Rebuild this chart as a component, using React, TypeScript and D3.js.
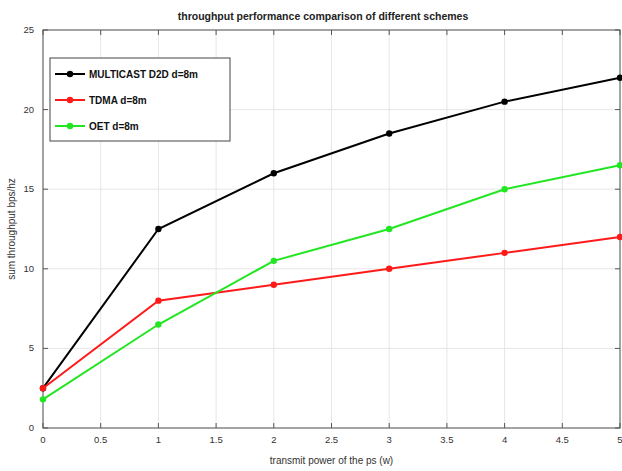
import React from 'react';
import * as d3 from 'd3';

// data
const powers = [0, 1, 2, 3, 4, 5];
const multicast = [2.5, 12.5, 16, 18.5, 20.5, 22];
const tdma = [2.5, 8, 9, 10, 11, 12];
const oet = [1.8, 6.5, 10.5, 12.5, 15, 16.5];

const seriesNames = ['MULTICAST D2D d=8m', 'TDMA d=8m', 'OET d=8m'];
const seriesColors = ['#000000', '#ff1a1a', '#22e622'];
const xTicks = [0, 0.5, 1, 1.5, 2, 2.5, 3, 3.5, 4, 4.5, 5];
const yTicks = [0, 5, 10, 15, 20, 25];

const W = 622;
const H = 471;
const margin = { left: 43, top: 30, right: 2, bottom: 43 };

export default function App() {
	const innerW = W - margin.left - margin.right;
	const innerH = H - margin.top - margin.bottom;
	const x = d3.scaleLinear().domain([0, 5]).range([0, innerW]);
	const y = d3.scaleLinear().domain([0, 25]).range([innerH, 0]);

	const allSeries = [multicast, tdma, oet];
	const line = d3.line<number>()
		.x((d, i) => x(powers[i]))
		.y(d => y(d));

	const font = 'Liberation Sans, Arial, sans-serif';

	return (
		<svg width={W} height={H} style={{ position: 'absolute', left: 0, top: 0, background: '#fff' }}
			fontFamily={font}>
			<rect width={W} height={H} fill="#fff" />
			<text x={W / 2 + 12} y={20} textAnchor="middle" fontSize={10.5} fontWeight="bold" fill="#222">
				throughput performance comparison of different schemes
			</text>
			<g transform={`translate(${margin.left},${margin.top})`}>
				{/* grid */}
				{xTicks.map(t => (
					<line key={'gx' + t} x1={x(t)} x2={x(t)} y1={0} y2={innerH} stroke="#e6e6e6" strokeWidth={1} />
				))}
				{yTicks.map(t => (
					<line key={'gy' + t} x1={0} x2={innerW} y1={y(t)} y2={y(t)} stroke="#e6e6e6" strokeWidth={1} />
				))}
				{/* box */}
				<rect x={0} y={0} width={innerW} height={innerH} fill="none" stroke="#555" strokeWidth={1} />
				{/* ticks */}
				{xTicks.map(t => (
					<g key={'tx' + t}>
						<line x1={x(t)} x2={x(t)} y1={innerH} y2={innerH - 5} stroke="#555" />
						<line x1={x(t)} x2={x(t)} y1={0} y2={5} stroke="#555" />
						<text x={x(t)} y={innerH + 15} textAnchor="middle" fontSize={9.5} fill="#333">{t}</text>
					</g>
				))}
				{yTicks.map(t => (
					<g key={'ty' + t}>
						<line x1={0} x2={5} y1={y(t)} y2={y(t)} stroke="#555" />
						<line x1={innerW} x2={innerW - 5} y1={y(t)} y2={y(t)} stroke="#555" />
						<text x={-9} y={y(t) + 3} textAnchor="end" fontSize={9.5} fill="#333">{t}</text>
					</g>
				))}
				{/* lines */}
				{allSeries.map((s, k) => (
					<g key={'s' + k}>
						<path d={line(s) || ''} fill="none" stroke={seriesColors[k]} strokeWidth={2} />
						{s.map((v, i) => (
							<circle key={i} cx={x(powers[i])} cy={y(v)} r={3.2} fill={seriesColors[k]} />
						))}
					</g>
				))}
				{/* legend */}
				<g transform="translate(7,28)">
					<rect x={0} y={0} width={180} height={83} fill="#fff" stroke="#444" strokeWidth={1} />
					{seriesNames.map((n, k) => (
						<g key={'l' + k} transform={`translate(0,${16 + k * 26})`}>
							<line x1={5} x2={35} y1={0} y2={0} stroke={seriesColors[k]} strokeWidth={2} />
							<circle cx={20} cy={0} r={3.2} fill={seriesColors[k]} />
							<text x={39} y={4} fontSize={10} fontWeight="bold" fill="#111">{n}</text>
						</g>
					))}
				</g>
			</g>
			<text x={margin.left + innerW / 2} y={H - 7} textAnchor="middle" fontSize={10} fill="#333">
				transmit power of the ps (w)
			</text>
			<text transform={`translate(15,${margin.top + innerH / 2}) rotate(-90)`} textAnchor="middle" fontSize={10} fill="#333">
				sum throughput bps/hz
			</text>
		</svg>
	);
}
